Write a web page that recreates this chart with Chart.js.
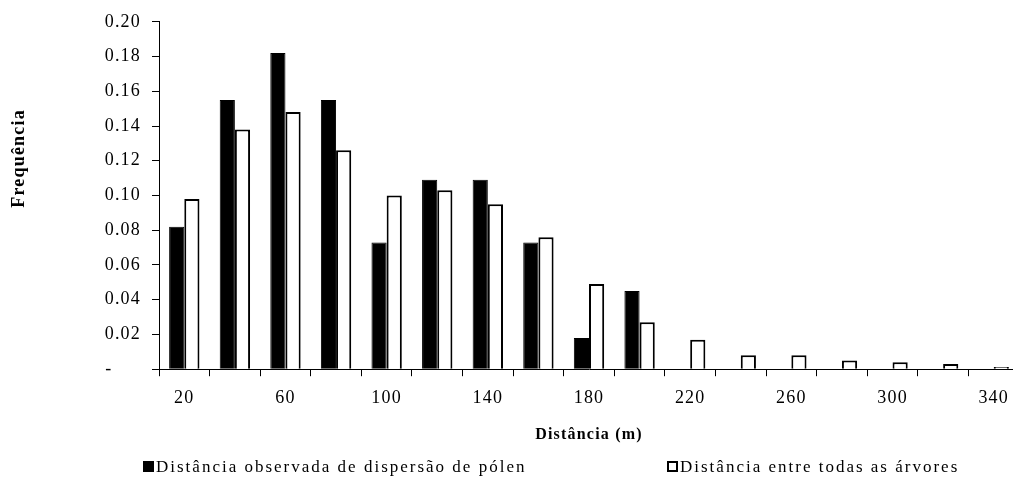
<!DOCTYPE html>
<html>
<head>
<meta charset="utf-8">
<script src="https://cdn.jsdelivr.net/npm/chart.js@4.4.1/dist/chart.umd.min.js"></script>
<style>
    body { margin: 0; background: #fff; }
    .wrap { position: relative; width: 1013px; height: 481px; overflow: hidden; }
    #freqChart { display: block; }
    .legend { position: absolute; top: 457px; font-family: "Liberation Serif", serif; font-size: 17px; letter-spacing: 2px; color: #000; white-space: nowrap; }
    .legend .box { display: inline-block; width: 11px; height: 11px; box-sizing: border-box; margin-right: 2px; vertical-align: 0px; }
</style>
</head>
<body>
<div class="wrap">
    <canvas id="freqChart" width="1022" height="481"></canvas>
    <div class="legend" style="left:143px"><span class="box" style="background:#000"></span>Distância observada de dispersão de pólen</div>
    <div class="legend" style="left:667px"><span class="box" style="background:#fff;border:2px solid #000"></span>Distância entre todas as árvores</div>
</div>
<script>
const distances = ['20', '40', '60', '80', '100', '120', '140', '160', '180', '200', '220', '240', '260', '280', '300', '320', '340'];
const observedPollen = [0.082, 0.155, 0.182, 0.155, 0.073, 0.109, 0.109, 0.073, 0.018, 0.045, 0, 0, 0, 0, 0, 0, 0];
const allTrees = [0.098, 0.138, 0.148, 0.126, 0.100, 0.103, 0.095, 0.076, 0.049, 0.027, 0.017, 0.008, 0.008, 0.005, 0.004, 0.003, 0.0013];
const yTicks = [0, 0.02, 0.04, 0.06, 0.08, 0.10, 0.12, 0.14, 0.16, 0.18, 0.20];

const serif = '"Liberation Serif", "Times New Roman", serif';

// Word-style wide text spacing
const spacingPlugin = {
    id: 'spacing',
    beforeUpdate(chart) { chart.ctx.letterSpacing = '1.2px'; },
    beforeDraw(chart) { chart.ctx.letterSpacing = '1.2px'; }
};

const ctx = document.querySelector('#freqChart').getContext('2d');

new Chart(ctx, {
    type: 'bar',
    data: {
        labels: distances,
        datasets: [
            {
                label: 'Distância observada de dispersão de pólen',
                data: observedPollen,
                backgroundColor: '#000',
                borderColor: '#000',
                borderWidth: 1,
                categoryPercentage: 0.6,
                barPercentage: 1
            },
            {
                label: 'Distância entre todas as árvores',
                data: allTrees,
                backgroundColor: '#fff',
                borderColor: '#000',
                borderWidth: 2,
                categoryPercentage: 0.6,
                barPercentage: 1
            }
        ]
    },
    options: {
        responsive: false,
        animation: false,
        layout: { padding: { top: 10, right: 3, bottom: 37, left: 0 } },
        plugins: {
            legend: { display: false },
            tooltip: { enabled: false }
        },
        scales: {
            x: {
                grid: { offset: true, drawOnChartArea: false, tickLength: 7, color: '#000' },
                border: { color: '#000', width: 1 },
                ticks: {
                    autoSkip: false,
                    maxRotation: 0,
                    padding: 11,
                    color: '#000',
                    font: { family: serif, size: 18 },
                    callback: function(value, index) {
                        return index % 2 === 0 ? distances[index] : '';
                    }
                },
                title: {
                    display: true,
                    text: 'Distância (m)',
                    color: '#000',
                    font: { family: serif, size: 16, weight: 'bold' },
                    padding: { top: 5, bottom: 0 }
                }
            },
            y: {
                min: 0,
                max: 0.2,
                afterBuildTicks: function(scale) {
                    scale.ticks = yTicks.map(v => ({ value: v }));
                },
                afterFit: function(scale) {
                    scale.width = 159;
                },
                grid: { drawOnChartArea: false, tickLength: 7, color: '#000' },
                border: { color: '#000', width: 1 },
                ticks: {
                    padding: 11,
                    color: '#000',
                    font: { family: serif, size: 18 },
                    callback: function(value) {
                        return value === 0 ? '-     ' : value.toFixed(2);
                    }
                },
                title: {
                    display: true,
                    // leading spaces lift the title above the axis centre, as in the original
                    text: '             Frequência',
                    color: '#000',
                    font: { family: serif, size: 18, weight: 'bold' },
                    padding: { top: 9, bottom: 0 }
                }
            }
        }
    },
    plugins: [spacingPlugin]
});
</script>
</body>
</html>
